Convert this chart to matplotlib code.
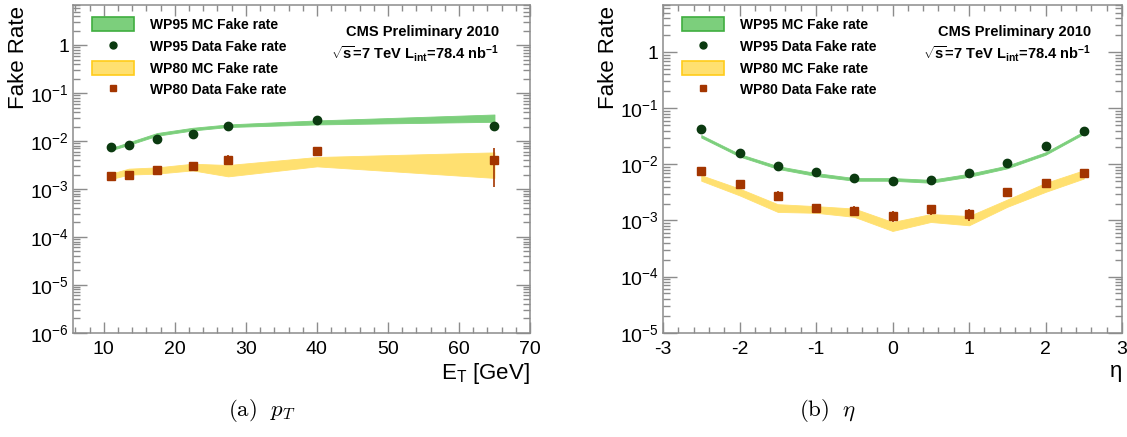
import numpy as np
import matplotlib
matplotlib.use("Agg")
import matplotlib.pyplot as plt
from matplotlib.patches import Patch
from matplotlib.lines import Line2D
from matplotlib.ticker import LogLocator, FuncFormatter, MultipleLocator, NullFormatter

plt.rcParams['font.family'] = ['Liberation Sans', 'DejaVu Sans']
plt.rcParams['mathtext.fontset'] = 'custom'
plt.rcParams['mathtext.rm'] = 'Liberation Sans'
plt.rcParams['mathtext.it'] = 'Liberation Sans:italic'
plt.rcParams['mathtext.bf'] = 'Liberation Sans:bold'
plt.rcParams['axes.unicode_minus'] = False

# ---- fake rate vs E_T ----
et_centers = [11, 13.5, 17.5, 22.5, 27.5, 40, 65]
wp95_data_et = [0.0075, 0.0084, 0.0108, 0.0142, 0.0202, 0.0275, 0.0209]
wp95_err_et = [0.0004, 0.0004, 0.0005, 0.0007, 0.0010, 0.0018, 0.0032]
wp80_data_et = [0.00188, 0.00197, 0.0025, 0.00304, 0.0041, 0.0063, 0.0041]
wp80_err_et = [0.00018, 0.0002, 0.00025, 0.0004, 0.0010, 0.0009, 0.0030]
wp95_mc_et_lo = [0.0064, 0.0083, 0.0129, 0.0166, 0.0196, 0.0222, 0.0252]
wp95_mc_et_hi = [0.0071, 0.0094, 0.0147, 0.0189, 0.0222, 0.0269, 0.0358]
wp80_mc_et_lo = [0.00161, 0.00199, 0.00209, 0.00244, 0.00183, 0.00296, 0.0017]
wp80_mc_et_hi = [0.00208, 0.00265, 0.00282, 0.00336, 0.00316, 0.00464, 0.0058]

# ---- fake rate vs eta ----
eta_centers = [-2.5, -2.0, -1.5, -1.0, -0.5, 0.0, 0.5, 1.0, 1.5, 2.0, 2.5]
wp95_data_eta = [0.0434, 0.0160, 0.0095, 0.0073, 0.0057, 0.0051, 0.0052, 0.0070, 0.0106, 0.0213, 0.0390]
wp95_err_eta = [0.0020, 0.0008, 0.0005, 0.0004, 0.0003, 0.0003, 0.0003, 0.0004, 0.0005, 0.0010, 0.0020]
wp80_data_eta = [0.00764, 0.00443, 0.00278, 0.0017, 0.00148, 0.00121, 0.00157, 0.00128, 0.00319, 0.00467, 0.0069]
wp80_err_eta = [0.0012, 0.0007, 0.0006, 0.0003, 0.0003, 0.00028, 0.0003, 0.0003, 0.0005, 0.0006, 0.0012]
wp95_mc_eta_lo = [0.0300, 0.0138, 0.0083, 0.0062, 0.0051, 0.0051, 0.0047, 0.0060, 0.0085, 0.0148, 0.0348]
wp95_mc_eta_hi = [0.0333, 0.0153, 0.0093, 0.0070, 0.0057, 0.0057, 0.0053, 0.0068, 0.0095, 0.0164, 0.0386]
wp80_mc_eta_lo = [0.0051, 0.0028, 0.00142, 0.00137, 0.00116, 0.00065, 0.00094, 0.00082, 0.00175, 0.00323, 0.00558]
wp80_mc_eta_hi = [0.0064, 0.0037, 0.00195, 0.0018, 0.00163, 0.00094, 0.0013, 0.0012, 0.00236, 0.00467, 0.00785]

GREEN_FILL = '#7ccf7c'
GREEN_EDGE = '#3fae3f'
YELLOW_FILL = '#ffe070'
YELLOW_EDGE = '#ffcc1a'
WP95_COL = '#0b3a10'
WP80_COL = '#a33500'
FRAME = '#8c8c8c'

W, H = 1127, 437
fig = plt.figure(figsize=(W / 100, H / 100), dpi=100)

ax1 = fig.add_axes([73.3 / W, (H - 332.7) / H, 456.7 / W, 328 / H])
ax2 = fig.add_axes([663 / W, (H - 332.7) / H, 459 / W, 328 / H])


def decade_label(v, pos):
    if abs(v - 1) < 1e-9:
        return '1'
    e = int(round(np.log10(v)))
    return r'$\mathregular{10^{%d}}$' % e


def style_axes(ax, ymin, ymax, xmajor, xminor):
    ax.set_yscale('log')
    ax.set_ylim(ymin, ymax)
    ax.yaxis.set_major_locator(LogLocator(base=10, numticks=100))
    ax.yaxis.set_minor_locator(LogLocator(base=10, subs=np.arange(2, 10), numticks=100))
    ax.yaxis.set_major_formatter(FuncFormatter(decade_label))
    ax.yaxis.set_minor_formatter(NullFormatter())
    ax.xaxis.set_major_locator(MultipleLocator(xmajor))
    ax.xaxis.set_minor_locator(MultipleLocator(xminor))
    for s in ax.spines.values():
        s.set_color(FRAME)
        s.set_linewidth(1.1)
    ax.tick_params(which='both', direction='in', top=True, right=True, color=FRAME, width=1.0)
    ax.tick_params(axis='y', which='major', length=10, pad=3, labelsize=14)
    ax.tick_params(axis='y', which='minor', length=5)
    ax.tick_params(axis='x', which='major', length=8, pad=6, labelsize=14)
    ax.tick_params(axis='x', which='minor', length=4)
    w = ax.get_position().width * W
    h = ax.get_position().height * H
    ax.set_ylabel('Fake Rate', fontsize=16)
    ax.yaxis.set_label_coords(-44 / w, 1 - 1.0 / h)
    ax.yaxis.label.set_horizontalalignment('right')


def draw_panel(ax, x, d95, e95, d80, e80, lo95, hi95, lo80, hi80):
    ax.fill_between(x, lo95, hi95, facecolor=GREEN_FILL, edgecolor=GREEN_FILL, lw=0.6, zorder=2)
    ax.fill_between(x, lo80, hi80, facecolor=YELLOW_FILL, edgecolor=YELLOW_FILL, lw=0.6, zorder=2)
    ax.errorbar(x, d95, yerr=e95, fmt='o', ms=6, color=WP95_COL, mec=WP95_COL,
                elinewidth=1.2, capsize=0, zorder=4)
    ax.errorbar(x, d80, yerr=e80, fmt='s', ms=6, color=WP80_COL, mec=WP80_COL,
                elinewidth=1.2, capsize=0, zorder=4)

    handles = [
        Patch(facecolor=GREEN_FILL, edgecolor=GREEN_EDGE, lw=1.2),
        Line2D([], [], ls='none', marker='o', ms=5, color=WP95_COL),
        Patch(facecolor=YELLOW_FILL, edgecolor=YELLOW_EDGE, lw=1.2),
        Line2D([], [], ls='none', marker='s', ms=5, color=WP80_COL),
    ]
    labels = ['WP95 MC Fake rate', 'WP95 Data Fake rate',
              'WP80 MC Fake rate', 'WP80 Data Fake rate']
    w = ax.get_position().width * W
    h = ax.get_position().height * H
    ax.legend(handles, labels, loc='upper left',
              bbox_to_anchor=(19 / w, 1 - 12.5 / h), borderaxespad=0, borderpad=0,
              frameon=False, prop={'weight': 'bold', 'size': 10},
              handlelength=3.0, handleheight=1.2, handletextpad=1.15,
              labelspacing=0.5, numpoints=1)

    ax.text(1 - 31 / w, 1 - 27 / h, 'CMS Preliminary 2010', transform=ax.transAxes,
            ha='right', va='center', fontsize=10.5, fontweight='bold')
    ax.text(1 - 31 / w, 1 - 49 / h,
            r'$\sqrt{\mathbf{s}}$=7 TeV L$_{\mathbf{int}}$=78.4 nb$^{\mathbf{-1}}$',
            transform=ax.transAxes, ha='right', va='center',
            fontsize=10.5, fontweight='bold')


style_axes(ax1, 1e-6, 7, 10, 2)
ax1.set_xlim(5.7, 70)
draw_panel(ax1, et_centers, wp95_data_et, wp95_err_et, wp80_data_et, wp80_err_et,
           wp95_mc_et_lo, wp95_mc_et_hi, wp80_mc_et_lo, wp80_mc_et_hi)
ax1.set_xlabel(r'$\mathregular{E_T}$ [GeV]', fontsize=16, labelpad=0)
ax1.xaxis.set_label_coords(1.0, -0.085)
ax1.xaxis.label.set_horizontalalignment('right')

style_axes(ax2, 1e-5, 7, 1, 0.2)
ax2.set_xlim(-3, 3)
draw_panel(ax2, eta_centers, wp95_data_eta, wp95_err_eta, wp80_data_eta, wp80_err_eta,
           wp95_mc_eta_lo, wp95_mc_eta_hi, wp80_mc_eta_lo, wp80_mc_eta_hi)
ax2.set_xlabel('η', fontsize=16, labelpad=0)
ax2.xaxis.set_label_coords(1.0, -0.085)
ax2.xaxis.label.set_horizontalalignment('right')

fig.text(262 / W, 1 - 410 / H, r'$\mathrm{(a)}\ \ p_T$', ha='center', va='center',
         fontsize=16.5, math_fontfamily='cm')
fig.text(828 / W, 1 - 410 / H, r'$\mathrm{(b)}\ \ \eta$', ha='center', va='center',
         fontsize=16.5, math_fontfamily='cm')

fig.savefig('out.png', dpi=100, facecolor='white')
